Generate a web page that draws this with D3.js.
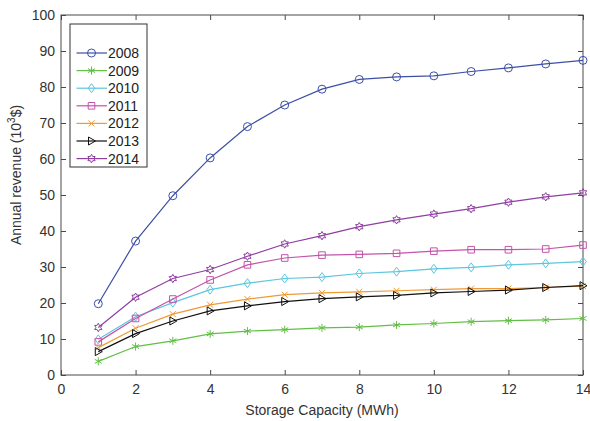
<!DOCTYPE html>
<html>
<head>
<meta charset="utf-8">
<script src="https://cdn.jsdelivr.net/npm/d3@7"></script>
<style>
  body { margin: 0; background: #fff; }
  svg { font-family: "Liberation Sans", Arial, sans-serif; }
</style>
</head>
<body>
<div id="chart"></div>
<script>
// Storage capacity (MWh)
const capacity = [1, 2, 3, 4, 5, 6, 7, 8, 9, 10, 11, 12, 13, 14];

// Annual revenue (10^3 $) per year
const years = ['2008', '2009', '2010', '2011', '2012', '2013', '2014'];
const rev2008 = [19.8, 37.2, 49.8, 60.3, 69.0, 75.0, 79.4, 82.1, 82.8, 83.1, 84.3, 85.3, 86.4, 87.4];
const rev2009 = [3.8, 7.9, 9.5, 11.4, 12.2, 12.6, 13.1, 13.3, 13.9, 14.3, 14.8, 15.1, 15.3, 15.7];
const rev2010 = [9.9, 16.2, 20.1, 23.7, 25.5, 26.8, 27.2, 28.2, 28.7, 29.5, 29.9, 30.6, 31.0, 31.5];
const rev2011 = [9.2, 15.7, 21.1, 26.4, 30.6, 32.5, 33.3, 33.5, 33.8, 34.4, 34.8, 34.8, 35.0, 36.1];
const rev2012 = [7.6, 13.0, 16.9, 19.5, 21.1, 22.3, 22.8, 23.1, 23.4, 23.7, 24.0, 24.0, 24.3, 24.7];
const rev2013 = [6.5, 11.5, 15.0, 17.8, 19.2, 20.4, 21.2, 21.7, 22.1, 22.8, 23.2, 23.6, 24.3, 24.8];
const rev2014 = [13.2, 21.6, 26.8, 29.3, 33.0, 36.4, 38.7, 41.2, 43.1, 44.7, 46.2, 48.0, 49.5, 50.6];

const xTicks = [0, 2, 4, 6, 8, 10, 12, 14];
const yTicks = [0, 10, 20, 30, 40, 50, 60, 70, 80, 90, 100];

const colors = ['#3c4fa6', '#62bf45', '#5cc6de', '#c354a8', '#ef9a35', '#111111', '#8e3fa0'];
const markers = ['circle', 'asterisk', 'diamond', 'square', 'cross', 'triangle', 'hexagram'];

const series = years.map((y, i) => ({
  name: y,
  values: [rev2008, rev2009, rev2010, rev2011, rev2012, rev2013, rev2014][i],
  color: colors[i],
  marker: markers[i]
}));

const width = 590, height = 421;
const margin = { top: 15, right: 7, bottom: 46, left: 61 };
const iw = width - margin.left - margin.right;
const ih = height - margin.top - margin.bottom;

const svg = d3.select('#chart').append('svg')
  .attr('width', width)
  .attr('height', height);

const g = svg.append('g').attr('transform', `translate(${margin.left},${margin.top})`);

const x = d3.scaleLinear().domain([0, 14]).range([0, iw]);
const y = d3.scaleLinear().domain([0, 100]).range([ih, 0]);

const axisColor = '#4a4a4a';
const tickLen = 5;

// axes (ticks point inward, box on all sides)
function styleAxis(sel) {
  sel.select('.domain').remove();
  sel.selectAll('line').attr('stroke', axisColor);
  sel.selectAll('text').attr('fill', '#333').style('font-size', '14px');
}

g.append('g')
  .attr('transform', `translate(0,${ih})`)
  .call(d3.axisBottom(x).tickValues(xTicks).tickSizeInner(-tickLen).tickSizeOuter(0).tickPadding(9))
  .call(styleAxis);

g.append('g')
  .call(d3.axisTop(x).tickValues(xTicks).tickSizeInner(-tickLen).tickSizeOuter(0).tickFormat(''))
  .call(styleAxis);

g.append('g')
  .call(d3.axisLeft(y).tickValues(yTicks).tickSizeInner(-tickLen).tickSizeOuter(0).tickPadding(6))
  .call(styleAxis);

g.append('g')
  .attr('transform', `translate(${iw},0)`)
  .call(d3.axisRight(y).tickValues(yTicks).tickSizeInner(-tickLen).tickSizeOuter(0).tickFormat(''))
  .call(styleAxis);

g.append('rect')
  .attr('width', iw)
  .attr('height', ih)
  .attr('fill', 'none')
  .attr('stroke', axisColor)
  .attr('stroke-width', 1);

// marker shapes
function markerPath(type) {
  const r = 4;
  switch (type) {
    case 'circle':
      return d3.symbol(d3.symbolCircle, Math.PI * r * r)();
    case 'square':
      return `M${-3.3},${-3.3}H3.3V3.3H-3.3Z`;
    case 'diamond':
      return `M0,${-r - 0.5}L3.3,0L0,${r + 0.5}L-3.3,0Z`;
    case 'cross':
      return `M-3,-3L3,3M-3,3L3,-3`;
    case 'asterisk':
      return `M0,-4V4M-3.5,-2L3.5,2M-3.5,2L3.5,-2`;
    case 'triangle':
      return `M-3,-4L4,0L-3,4Z`;
    case 'hexagram': {
      const pts = [];
      for (let k = 0; k < 12; k++) {
        const a = -Math.PI / 2 + k * Math.PI / 6;
        const rr = k % 2 === 0 ? 4.2 : 2.4;
        pts.push([rr * Math.cos(a), rr * Math.sin(a)]);
      }
      return 'M' + pts.map(p => p.join(',')).join('L') + 'Z';
    }
  }
}

const line = d3.line()
  .x((d, i) => x(capacity[i]))
  .y(d => y(d));

const sg = g.selectAll('.series')
  .data(series)
  .join('g')
  .attr('class', 'series');

sg.append('path')
  .attr('d', d => line(d.values))
  .attr('fill', 'none')
  .attr('stroke', d => d.color)
  .attr('stroke-width', 1.2);

sg.each(function(s) {
  d3.select(this).selectAll('.mk')
    .data(s.values)
    .join('path')
    .attr('class', 'mk')
    .attr('transform', (d, i) => `translate(${x(capacity[i])},${y(d)})`)
    .attr('d', markerPath(s.marker))
    .attr('fill', 'none')
    .attr('stroke', s.color)
    .attr('stroke-width', 1);
});

// legend
const legend = svg.append('g').attr('transform', 'translate(70,24)');
legend.append('rect')
  .attr('width', 77)
  .attr('height', 143)
  .attr('fill', '#fff')
  .attr('stroke', '#333')
  .attr('stroke-width', 1);

const li = legend.selectAll('.li')
  .data(series)
  .join('g')
  .attr('class', 'li')
  .attr('transform', (d, i) => `translate(0,${29 + i * 17.6})`);

li.append('line')
  .attr('x1', 6.5).attr('x2', 37)
  .attr('stroke', d => d.color)
  .attr('stroke-width', 1.2);

li.append('path')
  .attr('transform', 'translate(21.5,0)')
  .attr('d', d => markerPath(d.marker))
  .attr('fill', 'none')
  .attr('stroke', d => d.color);

li.append('text')
  .attr('x', 38)
  .attr('dy', '0.36em')
  .attr('fill', '#222')
  .style('font-size', '14px')
  .text(d => d.name);

// axis labels
svg.append('text')
  .attr('x', margin.left + iw / 2)
  .attr('y', 415)
  .attr('text-anchor', 'middle')
  .attr('fill', '#333')
  .style('font-size', '14px')
  .text('Storage Capacity (MWh)');

const yl = svg.append('text')
  .attr('transform', 'translate(21,175) rotate(-90)')
  .attr('text-anchor', 'middle')
  .attr('fill', '#333')
  .style('font-size', '14px');
yl.append('tspan').text('Annual revenue (10');
yl.append('tspan').attr('dy', -6).style('font-size', '10px').text('3');
yl.append('tspan').attr('dy', 6).text('$)');
</script>
</body>
</html>
